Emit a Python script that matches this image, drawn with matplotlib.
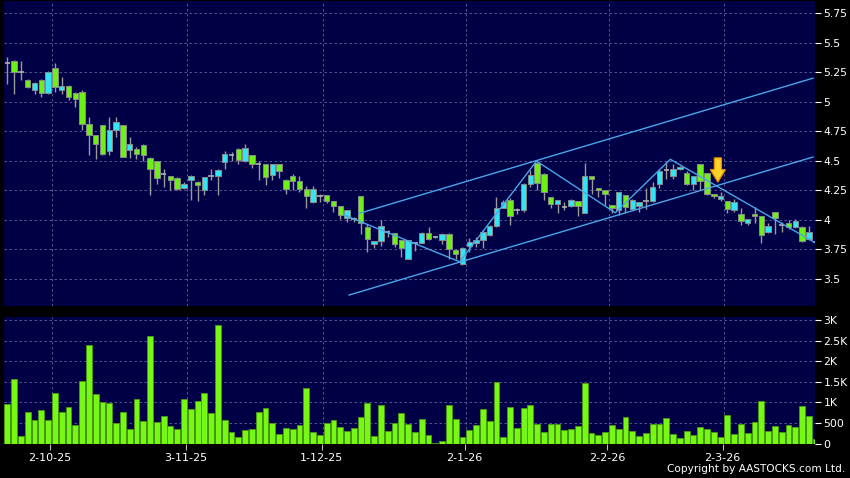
import matplotlib
matplotlib.use("Agg")
import matplotlib.pyplot as plt
from matplotlib.patches import FancyArrow
import numpy as np

# ---------------- data ----------------
opens = [5.326, 5.349, 5.25, 5.188, 5.10, 5.188, 5.075, 5.287, 5.10, 5.135,
         5.075, 5.087, 4.813, 4.715, 4.80, 4.58, 4.757, 4.80, 4.588, 4.596,
         4.63, 4.526, 4.495, 4.385, 4.368, 4.357, 4.273, 4.335, 4.32, 4.25,
         4.368, 4.368, 4.49, 4.55, 4.596, 4.495, 4.546, 4.475, 4.47, 4.377,
         4.472, 4.341, 4.37, 4.327, 4.265, 4.152, 4.20, 4.208, 4.157, 4.115,
         4.016, 4.005, 4.20, 3.939, 3.792, 3.817, 3.897, 3.89, 3.83, 3.67,
         3.80, 3.806, 3.89, 3.854, 3.826, 3.882, 3.746, 3.628, 3.78, 3.803,
         3.826, 3.868, 3.945, 4.104, 4.166, 4.086, 4.086, 4.307, 4.483, 4.392,
         4.19, 4.138, 4.105, 4.116, 4.158, 4.062, 4.373, 4.266, 4.252, 4.124,
         4.082, 4.209, 4.096, 4.119, 4.161, 4.161, 4.30, 4.42, 4.37, 4.43,
         4.398, 4.302, 4.469, 4.393, 4.22, 4.175, 4.158, 4.082, 4.048, 3.969,
         4.053, 4.031, 3.893, 4.068, 3.955, 3.975, 3.94, 3.94, 3.836, 3.808]
highs = [5.377, 5.35, 5.349, 5.19, 5.165, 5.19, 5.26, 5.326, 5.21, 5.14,
         5.08, 5.10, 4.875, 4.72, 4.80, 4.875, 4.87, 4.80, 4.706, 4.62,
         4.64, 4.53, 4.50, 4.433, 4.37, 4.36, 4.32, 4.382, 4.325, 4.365,
         4.427, 4.433, 4.582, 4.574, 4.608, 4.64, 4.55, 4.50, 4.47, 4.475,
         4.475, 4.345, 4.387, 4.37, 4.285, 4.285, 4.222, 4.21, 4.16, 4.12,
         4.086, 4.02, 4.20, 3.962, 3.82, 3.995, 3.916, 3.89, 3.83, 3.83,
         3.81, 3.90, 3.939, 3.862, 3.886, 3.885, 3.75, 3.77, 3.848, 3.854,
         3.916, 3.953, 4.194, 4.166, 4.186, 4.104, 4.31, 4.426, 4.49, 4.395,
         4.195, 4.17, 4.153, 4.175, 4.16, 4.483, 4.375, 4.27, 4.255, 4.125,
         4.237, 4.21, 4.175, 4.155, 4.271, 4.322, 4.43, 4.486, 4.477, 4.455,
         4.41, 4.375, 4.477, 4.395, 4.222, 4.237, 4.16, 4.175, 4.10, 4.01,
         4.11, 4.035, 3.969, 4.07, 3.983, 3.997, 4.011, 3.945, 3.949, 3.842]
lows = [5.151, 5.067, 5.188, 5.12, 5.067, 5.039, 5.07, 5.08, 5.067, 5.016,
        4.954, 4.757, 4.55, 4.518, 4.546, 4.55, 4.70, 4.53, 4.523, 4.518,
        4.495, 4.213, 4.306, 4.278, 4.25, 4.25, 4.26, 4.171, 4.157, 4.213,
        4.34, 4.213, 4.433, 4.495, 4.47, 4.49, 4.44, 4.34, 4.298, 4.335,
        4.358, 4.222, 4.256, 4.237, 4.10, 4.143, 4.152, 4.143, 4.067, 4.01,
        3.98, 3.98, 3.88, 3.727, 3.76, 3.775, 3.854, 3.77, 3.684, 3.665,
        3.74, 3.80, 3.826, 3.845, 3.792, 3.67, 3.67, 3.62, 3.727, 3.77,
        3.764, 3.86, 3.939, 4.10, 3.953, 4.047, 4.066, 4.279, 4.25, 4.166,
        4.10, 4.054, 4.082, 4.11, 4.034, 4.06, 4.223, 4.195, 4.124, 4.062,
        4.045, 4.054, 4.082, 4.068, 4.096, 4.155, 4.271, 4.35, 4.345, 4.425,
        4.294, 4.25, 4.25, 4.209, 4.186, 4.158, 4.054, 4.068, 3.955, 3.955,
        3.969, 3.80, 3.89, 3.884, 3.898, 3.92, 3.935, 3.815, 3.83, 3.80]
closes = [5.326, 5.256, 5.25, 5.129, 5.163, 5.075, 5.256, 5.129, 5.135, 5.039,
          5.025, 4.808, 4.72, 4.644, 4.56, 4.765, 4.825, 4.532, 4.639, 4.56,
          4.546, 4.433, 4.354, 4.385, 4.34, 4.258, 4.306, 4.368, 4.298, 4.363,
          4.368, 4.419, 4.554, 4.55, 4.504, 4.608, 4.475, 4.475, 4.363, 4.47,
          4.412, 4.265, 4.327, 4.265, 4.20, 4.265, 4.20, 4.157, 4.115, 4.038,
          4.08, 4.005, 3.973, 3.84, 3.817, 3.945, 3.897, 3.792, 3.76, 3.83,
          3.80, 3.89, 3.834, 3.854, 3.882, 3.755, 3.712, 3.764, 3.809, 3.826,
          3.897, 3.945, 4.104, 4.152, 4.03, 4.086, 4.307, 4.378, 4.313, 4.237,
          4.133, 4.166, 4.105, 4.167, 4.116, 4.373, 4.345, 4.252, 4.215, 4.102,
          4.232, 4.11, 4.167, 4.153, 4.161, 4.274, 4.412, 4.42, 4.43, 4.449,
          4.30, 4.373, 4.328, 4.223, 4.203, 4.20, 4.09, 4.153, 3.99, 4.006,
          4.034, 3.87, 3.946, 4.017, 3.955, 3.94, 3.989, 3.819, 3.898, 3.808]
volumes = [957, 1557, 187, 754, 568, 811, 568, 1233, 754, 876,
           446, 1517, 2392, 1192, 1006, 973, 503, 754, 341, 1071,
           535, 2611, 527, 665, 422, 357, 1079, 835, 1030, 1233,
           746, 2871, 568, 284, 146, 324, 349, 754, 868, 487,
           219, 365, 341, 446, 1338, 268, 203, 503, 560, 389,
           308, 373, 649, 973, 187, 925, 292, 495, 730, 462,
           284, 584, 203, 24, 49, 925, 592, 162, 324, 446,
           827, 551, 1500, 146, 884, 373, 868, 925, 462, 268,
           470, 478, 324, 341, 422, 1460, 260, 203, 276, 438,
           341, 633, 308, 178, 260, 478, 470, 616, 235, 138,
           308, 195, 389, 357, 268, 146, 697, 227, 470, 243,
           519, 1022, 300, 430, 276, 446, 405, 900, 665, 114]

date_labels = ["2-10-25", "3-11-25", "1-12-25", "2-1-26", "2-2-26", "2-3-26"]
date_bar_index = [6, 26, 46, 67, 88, 105]

price_ticks = [3.5, 3.75, 4, 4.25, 4.5, 4.75, 5, 5.25, 5.5, 5.75]
price_tick_labels = ["3.5", "3.75", "4", "4.25", "4.5", "4.75", "5", "5.25", "5.5", "5.75"]
vol_ticks = [0, 500, 1000, 1500, 2000, 2500, 3000]
vol_tick_labels = ["0", "500", "1K", "1.5K", "2K", "2.5K", "3K"]

# trend lines (bar index, price)
channel_upper_x = [51.8, 118.6]
channel_upper_y = [4.055, 5.20]
channel_lower_x = [50.3, 118.6]
channel_lower_y = [3.363, 4.532]
zigzag_x = [49.6, 66.6, 77.9, 89.5, 97.6, 118.8]
zigzag_y = [4.04, 3.645, 4.498, 4.06, 4.513, 3.81]

arrow_x = 104.6
arrow_top = 4.525
arrow_tip = 4.32

# ---------------- style ----------------
BG = "#000000"
PANEL = "#000046"
GRID = "#64649a"
UP = "#33e4f2"
DOWN = "#6cf018"
EDGE = "#8a8a8a"
WICK = "#9a9a9a"
VOL = "#77f814"
VOL_EDGE = "#4b9a12"
LINE = "#4aa6ea"

W, H = 850, 478
fig = plt.figure(figsize=(W / 100, H / 100), dpi=100, facecolor=BG)

def fax(l, t, r, b):
    return fig.add_axes([l / W, 1 - b / H, (r - l) / W, (b - t) / H])

axp = fax(4, 1, 815, 306)
axv = fax(4, 317, 815, 443.5)

n = len(opens)
x = np.arange(n)
o = np.array(opens); c = np.array(closes)
hi = np.array(highs); lo = np.array(lows)

xlim = (-0.5, 118.9)
for ax in (axp, axv):
    ax.set_facecolor(PANEL)
    for s in ax.spines.values():
        s.set_visible(False)
    ax.set_xlim(*xlim)
    ax.yaxis.tick_right()
    ax.tick_params(axis="y", colors="white", labelcolor="white", length=4,
                   width=0.8, pad=2, labelsize=7.8)
    grid_x = [i + 0.5 for i in date_bar_index]
    for gx in grid_x:
        ax.axvline(gx, color=GRID, lw=0.6, ls=(0, (3, 3)), zorder=1)

# price panel
axp.set_ylim(3.27, 5.854)
axp.set_yticks(price_ticks)
axp.set_yticklabels(price_tick_labels)
axp.set_xticks([])
for yv in price_ticks:
    axp.axhline(yv, color=GRID, lw=0.6, ls=(0, (3, 3)), zorder=1)

axp.vlines(x, lo, hi, color=WICK, lw=1.0, zorder=2)
body_w = 0.8
for i in range(n):
    if abs(c[i] - o[i]) < 0.004:
        axp.hlines(o[i], i - body_w / 2, i + body_w / 2, color="#b0b0b0", lw=1.2, zorder=3)
    else:
        col = UP if c[i] > o[i] else DOWN
        axp.bar(i, abs(c[i] - o[i]), bottom=min(o[i], c[i]), width=body_w,
                color=col, edgecolor=EDGE, linewidth=0.7, zorder=3)

axp.plot(channel_upper_x, channel_upper_y, color=LINE, lw=1.0, zorder=4)
axp.plot(channel_lower_x, channel_lower_y, color=LINE, lw=1.0, zorder=4)
axp.plot(zigzag_x, zigzag_y, color=LINE, lw=1.0, zorder=4)

arr = FancyArrow(arrow_x, arrow_top, 0, arrow_tip - arrow_top, width=1.05,
                 head_width=2.2, head_length=0.105, length_includes_head=True,
                 facecolor="#ffd22a", edgecolor="#f08c00", linewidth=0.9, zorder=5)
axp.add_patch(arr)

# volume panel
axv.set_ylim(0, 3073)
axv.set_yticks(vol_ticks)
axv.set_yticklabels(vol_tick_labels)
for yv in vol_ticks[1:]:
    axv.axhline(yv, color=GRID, lw=0.6, ls=(0, (3, 3)), zorder=1)
axv.bar(x, volumes, width=0.86, color=VOL, edgecolor=VOL_EDGE, linewidth=0.6, zorder=3)
axv.set_xticks([i + 0.3 for i in date_bar_index])
axv.set_xticklabels(date_labels)
axv.tick_params(axis="x", colors="#bbbbbb", labelcolor="white", length=4,
                width=0.8, pad=3, labelsize=8)

fig.text(845 / W, 1 - 478 / H + 0.008, "Copyright by AASTOCKS.com Ltd.", color="white",
         ha="right", va="bottom", fontsize=7.6)

fig.savefig("out.png", dpi=100, facecolor=BG)
